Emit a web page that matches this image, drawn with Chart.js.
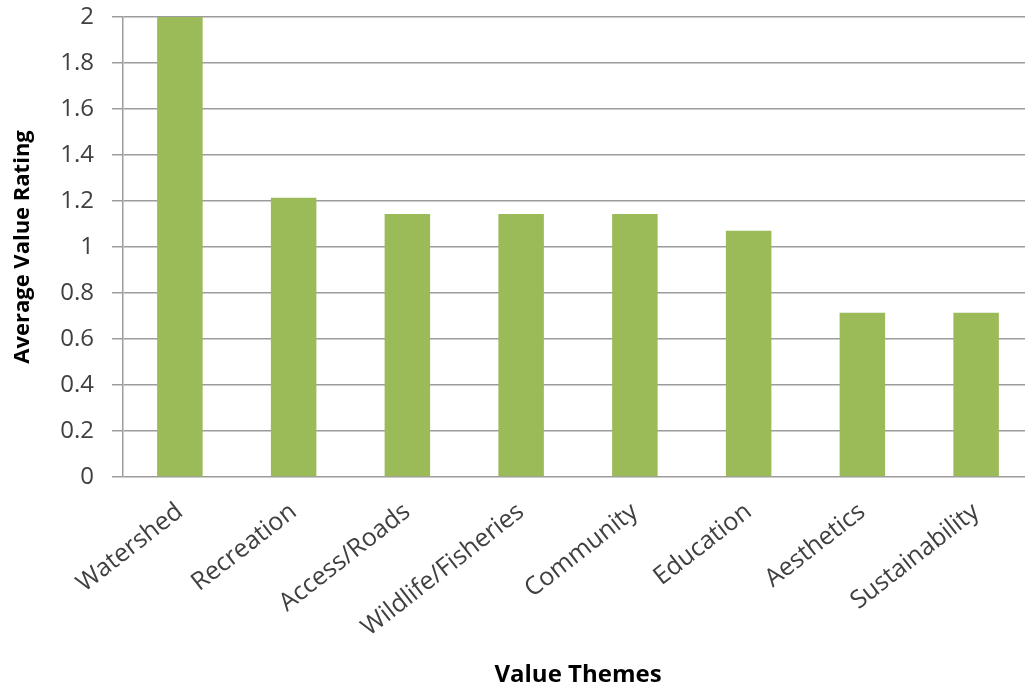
<!DOCTYPE html>
<html>
<head>
<meta charset="utf-8">
<script src="https://cdn.jsdelivr.net/npm/chart.js@4/dist/chart.umd.min.js"></script>
<style>
  html, body { margin: 0; padding: 0; background: #fff; overflow: hidden; }
  #chartBox { width: 1040px; height: 690px; }
</style>
</head>
<body>
<div id="chartBox"><canvas id="themeChart" width="1040" height="690"></canvas></div>
<script>
"use strict"

//chart data
const themeNames = ["Watershed", "Recreation", "Access/Roads", "Wildlife/Fisheries", "Community", "Education", "Aesthetics", "Sustainability"];
const avgRatings = [2, 1.214, 1.143, 1.143, 1.143, 1.071, 0.714, 0.714];
const yTicks = [0, 0.2, 0.4, 0.6, 0.8, 1, 1.2, 1.4, 1.6, 1.8, 2];

const labelFont = "'Open Sans', 'DejaVu Sans', sans-serif";
const textGrey = "#404040";
const lineGrey = "#9c9c9c";

const ctx = document.getElementById("themeChart").getContext("2d");

const themeChart = new Chart(ctx, {
  type: "bar",
  data: {
    labels: themeNames,
    datasets: [{
      label: "Average Value Rating",
      data: avgRatings,
      backgroundColor: "#9bbb59",
      borderWidth: 0,
      categoryPercentage: 1,
      barPercentage: 0.4
    }]
  },
  options: {
    responsive: false,
    animation: false,
    devicePixelRatio: 1,
    layout: { padding: { top: 17, right: 7, left: 0, bottom: 0 } },
    plugins: {
      legend: { display: false },
      tooltip: { enabled: false }
    },
    scales: {
      x: {
        grid: { display: false, drawTicks: false },
        border: { display: false },
        ticks: {
          color: textGrey,
          font: { family: labelFont, size: 25 },
          minRotation: 38,
          maxRotation: 38,
          padding: 20,
          autoSkip: false
        },
        title: {
          display: true,
          text: "Value Themes",
          color: "#000",
          font: { family: labelFont, size: 24, weight: "bold" },
          padding: { top: 0, bottom: 0 }
        },
        afterFit: function(scale) { scale.height = 213; }
      },
      y: {
        min: 0,
        max: 2,
        afterBuildTicks: function(scale) {
          scale.ticks = yTicks.map(v => ({ value: v }));
        },
        grid: { color: lineGrey, lineWidth: 1.5, tickLength: 11 },
        border: { display: true, color: lineGrey, width: 1.5 },
        ticks: {
          color: textGrey,
          font: { family: labelFont, size: 24 },
          padding: 18,
          callback: function(value) { return String(Math.round(value * 10) / 10); }
        },
        title: {
          display: true,
          text: "Average Value Rating",
          color: "#000",
          font: { family: labelFont, size: 22, weight: "bold" },
          padding: { top: 10, bottom: 0 }
        },
        afterFit: function(scale) {
          scale.width = 123;
          scale.paddingTop = 0;
          scale.paddingBottom = 0;
        }
      }
    }
  }
});
</script>
</body>
</html>
